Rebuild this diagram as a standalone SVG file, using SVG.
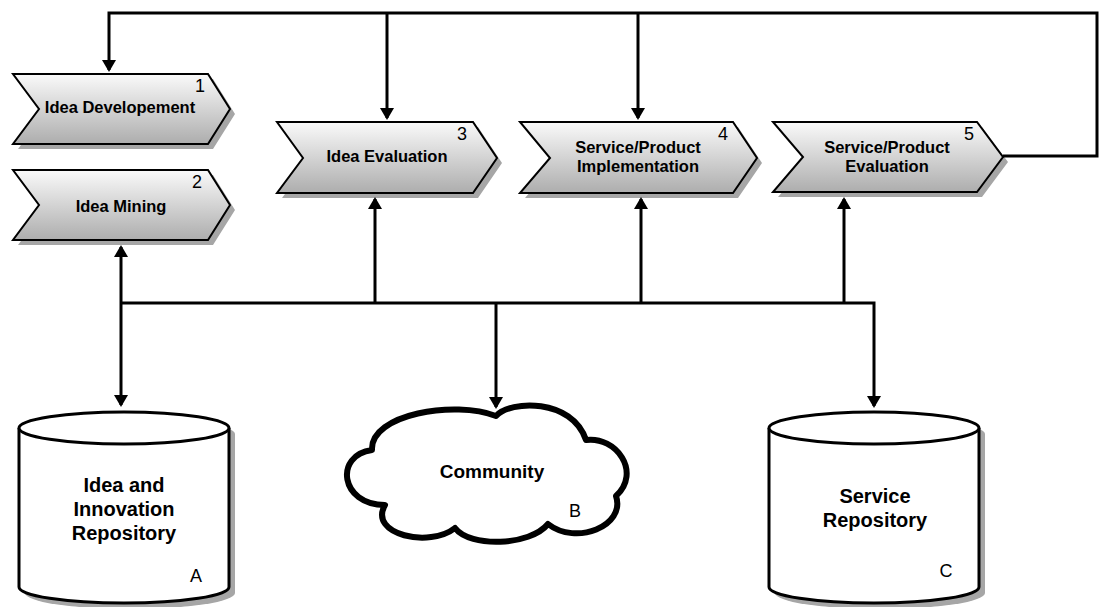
<svg xmlns="http://www.w3.org/2000/svg" width="1100" height="607" viewBox="0 0 1100 607">
  <style>
    .step { stroke: #000; stroke-width: 2; fill: url(#stepFill); stroke-linejoin: miter; }
    .shadow { fill: #a6a6a6; stroke: none; }
    .store { stroke: #000; stroke-width: 3; fill: #fff; }
    .lbl { font-family: "Liberation Sans", Arial, sans-serif; font-weight: bold; font-size: 16.5px; fill: #000; text-anchor: middle; }
    .big { font-family: "Liberation Sans", Arial, sans-serif; font-weight: bold; font-size: 20px; fill: #000; text-anchor: middle; }
    .num { font-family: "Liberation Sans", Arial, sans-serif; font-size: 18px; fill: #000; text-anchor: middle; }
    .wire { fill: none; stroke: #000; stroke-width: 3; stroke-linejoin: miter; }
  </style>
  <defs>
    <linearGradient id="stepFill" x1="0" y1="0" x2="0" y2="1">
      <stop offset="0" stop-color="#fafafa"/>
      <stop offset="1" stop-color="#adadad"/>
    </linearGradient>
    <marker id="arrow" viewBox="0 0 12 14" refX="10" refY="7" markerWidth="12" markerHeight="14" markerUnits="userSpaceOnUse" orient="auto">
      <path d="M0,0 L12,7 L0,14 Z" fill="#000"/>
    </marker>
    <marker id="arrowStart" viewBox="0 0 12 14" refX="2" refY="7" markerWidth="12" markerHeight="14" markerUnits="userSpaceOnUse" orient="auto">
      <path d="M12,0 L0,7 L12,14 Z" fill="#000"/>
    </marker>
  </defs>

  <rect width="1100" height="607" fill="#fff"/>

  <!-- process steps -->
  <g id="step1">
    <path class="shadow" d="M18,79 H213 L235,114 L213,149 H18 L44,114 Z"/>
    <path class="step" d="M13,74 H208 L230,109 L208,144 H13 L39,109 Z"/>
    <text class="lbl" x="120" y="113">Idea Developement</text>
    <text class="num" x="200" y="92">1</text>
  </g>
  <g id="step2">
    <path class="shadow" d="M18,175 H213 L235,210 L213,245 H18 L44,210 Z"/>
    <path class="step" d="M13,170 H208 L230,205 L208,240 H13 L39,205 Z"/>
    <text class="lbl" x="121" y="212">Idea Mining</text>
    <text class="num" x="197" y="188">2</text>
  </g>
  <g id="step3">
    <path class="shadow" d="M282,127 H478 L502,163 L478,198 H282 L308,163 Z"/>
    <path class="step" d="M277,122 H473 L497,158 L473,193 H277 L303,158 Z"/>
    <text class="lbl" x="387" y="162">Idea Evaluation</text>
    <text class="num" x="462" y="140">3</text>
  </g>
  <g id="step4">
    <path class="shadow" d="M525,127 H738 L762,163 L738,198 H525 L555,163 Z"/>
    <path class="step" d="M520,122 H733 L757,158 L733,193 H520 L550,158 Z"/>
    <text class="lbl" x="638" y="153">Service/Product</text>
    <text class="lbl" x="638" y="172">Implementation</text>
    <text class="num" x="723" y="140">4</text>
  </g>
  <g id="step5">
    <path class="shadow" d="M778,127 H982 L1008,162 L982,197 H778 L808,162 Z"/>
    <path class="step" d="M773,122 H977 L1003,157 L977,192 H773 L803,157 Z"/>
    <text class="lbl" x="887" y="153">Service/Product</text>
    <text class="lbl" x="887" y="172">Evaluation</text>
    <text class="num" x="969" y="140">5</text>
  </g>

  <!-- repositories and community -->
  <g id="repoA">
    <path class="shadow" d="M25,434 A105,16 0 0 1 235,434 V593 A105,16 0 0 1 25,593 Z"/>
    <path class="store" d="M19,428 V587 A105,16 0 0 0 229,587 V428"/>
    <ellipse class="store" cx="124" cy="428" rx="105" ry="16"/>
    <text class="big" x="124" y="492">Idea and</text>
    <text class="big" x="124" y="516">Innovation</text>
    <text class="big" x="124" y="540">Repository</text>
    <text class="num" x="196" y="582">A</text>
  </g>
  <g id="community">
    <path d="M496,416 C510,400 572,398 586,440 C616,436 642,472 616,496 C626,526 576,546 548,524 C530,546 470,548 455,528 C430,548 368,535 385,505 C340,505 334,455 372,450 C370,414 455,400 496,416 Z" fill="#fff" stroke="#000" stroke-width="6" stroke-linejoin="round"/>
    <text class="big" x="492" y="478" style="font-size:19px">Community</text>
    <text class="num" x="575" y="517">B</text>
  </g>
  <g id="repoC">
    <path class="shadow" d="M775,434 A105,16 0 0 1 985,434 V593 A105,16 0 0 1 775,593 Z"/>
    <path class="store" d="M769,428 V587 A105,16 0 0 0 979,587 V428"/>
    <ellipse class="store" cx="874" cy="428" rx="105" ry="16"/>
    <text class="big" x="875" y="503">Service</text>
    <text class="big" x="875" y="527">Repository</text>
    <text class="num" x="946" y="577">C</text>
  </g>

  <!-- connectors -->
  <g id="connectors">
    <path class="wire" d="M1003,156 H1097 V13 H109 V70" marker-end="url(#arrow)"/>
    <path class="wire" d="M387,13 V118" marker-end="url(#arrow)"/>
    <path class="wire" d="M638,13 V118" marker-end="url(#arrow)"/>
    <path class="wire" d="M121,303 H874 V406" marker-end="url(#arrow)"/>
    <path class="wire" d="M121,303 V247" marker-end="url(#arrow)"/>
    <path class="wire" d="M121,303 V405" marker-end="url(#arrow)"/>
    <path class="wire" d="M375,303 V199" marker-end="url(#arrow)"/>
    <path class="wire" d="M641,303 V199" marker-end="url(#arrow)"/>
    <path class="wire" d="M844,303 V199" marker-end="url(#arrow)"/>
    <path class="wire" d="M496,303 V407" marker-end="url(#arrow)"/>
  </g>
</svg>
